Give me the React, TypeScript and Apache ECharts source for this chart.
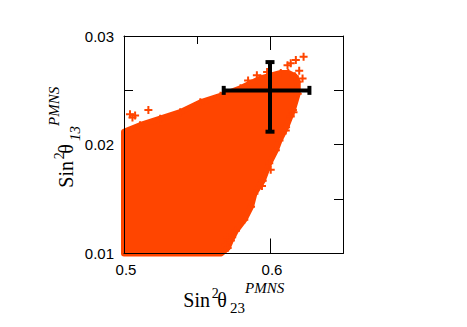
import React, { useEffect, useRef } from "react";
import * as echarts from "echarts";

const ORANGE = "#ff4500";

// Tick labels
const xTickLabels = [0.5, 0.6];
const yTickLabels = [0.01, 0.02, 0.03];
const xMinorTicks = [0.55];
const xMajorTicks = [0.6];

// Outline of the dense region of allowed points
const regionOutline: [number, number][] = [
  [0.5, 0.01],
  [0.5, 0.0212],
  [0.511, 0.0218],
  [0.5248, 0.0224],
  [0.5385, 0.023],
  [0.5523, 0.0239],
  [0.5661, 0.0245],
  [0.5798, 0.0252],
  [0.5936, 0.0261],
  [0.6074, 0.0266],
  [0.6125, 0.0266],
  [0.617, 0.0263],
  [0.619, 0.0258],
  [0.619, 0.0247],
  [0.6157, 0.0232],
  [0.611, 0.0216],
  [0.6065, 0.0204],
  [0.604, 0.0195],
  [0.5995, 0.0183],
  [0.595, 0.0167],
  [0.5893, 0.0155],
  [0.587, 0.0143],
  [0.5824, 0.0131],
  [0.5767, 0.0121],
  [0.5732, 0.0112],
  [0.571, 0.0105],
  [0.5665, 0.01],
];

// Scattered points outside / on the edge of the dense region
const outlierPoints: [number, number][] = [
  [0.5041, 0.0228],
  [0.5076, 0.0227],
  [0.5058, 0.0225],
  [0.5167, 0.0232],
  [0.623, 0.0281],
  [0.6177, 0.0278],
  [0.6142, 0.0275],
  [0.612, 0.0273],
  [0.62, 0.0268],
  [0.6223, 0.0261],
  [0.6161, 0.023],
  [0.6142, 0.0226],
  [0.6108, 0.0213],
  [0.5741, 0.0115],
  [0.585, 0.0259],
  [0.591, 0.0264],
  [0.598, 0.0267],
  [0.6005, 0.0177],
  [0.5945, 0.0162],
  [0.5707, 0.0115],
  [0.5695, 0.0108],
];

// Best-fit point with its error bars
const bestFit: [number, number] = [0.6, 0.025];
const xErrRange: [number, number] = [0.5683, 0.627];
const yErrRange: [number, number] = [0.0212, 0.0276];

const PLUS = "path://M3,0H5V3H8V5H5V8H3V5H0V3H3Z";

function titleChildren(sub: string, subItalic: boolean) {
  const base = {
    fill: "#000",
    fontFamily: "Liberation Serif",
    align: "left",
    verticalAlign: "middle",
  };
  return [
    { type: "text", x: 0, y: -6.75, style: { ...base, text: "Sin", fontSize: 20 } },
    { type: "text", x: 28.4, y: -13, style: { ...base, text: "2", fontSize: 14, lineHeight: 12 } },
    { type: "text", x: 34, y: -6.75, style: { ...base, text: "θ", fontSize: 20 } },
    {
      type: "text",
      x: 46.7,
      y: 2.1,
      style: { ...base, text: sub, fontSize: 15, lineHeight: 12, fontStyle: subItalic ? "italic" : "normal" },
    },
    {
      type: "text",
      x: 61.7,
      y: -18.5,
      style: { ...base, text: "PMNS", fontSize: 15, lineHeight: 11, fontStyle: "italic" },
    },
  ];
}

export default function App() {
  const ref = useRef<HTMLDivElement>(null);
  useEffect(() => {
    document.body.style.margin = "0";
    if (!ref.current) return;
    const chart = echarts.init(ref.current, undefined, { renderer: "svg" });

    const line = { color: "#000", width: 1 };
    const xBase: any = {
      type: "value",
      min: 0.5,
      max: 0.65,
      splitLine: { show: false },
      axisLabel: { show: false },
      axisTick: { show: false },
      axisLine: { show: false, onZero: false },
    };
    const yBase: any = {
      type: "value",
      min: 0.01,
      max: 0.03,
      interval: 0.005,
      splitLine: { show: false },
      axisLabel: { show: false },
      axisTick: { show: false },
      axisLine: { show: false, onZero: false },
    };

    const option: any = {
      animation: false,
      grid: { left: 124, top: 36, width: 219, height: 217.5 },
      xAxis: [
        {
          ...xBase,
          position: "bottom",
          axisLabel: {
            show: true,
            customValues: xTickLabels,
            formatter: (v: number) => v.toFixed(1),
            fontSize: 15,
            lineHeight: 13,
            fontFamily: "Liberation Sans",
            color: "#000",
            margin: 9,
            padding: [0, 0, 0, 4],
          },
          axisTick: { show: true, inside: true, customValues: xMinorTicks, length: 8, lineStyle: line },
        },
        {
          ...xBase,
          position: "bottom",
          axisTick: { show: true, inside: true, customValues: xMajorTicks, length: 15, lineStyle: line },
        },
        {
          ...xBase,
          position: "top",
          axisTick: { show: true, inside: true, customValues: xMinorTicks, length: 8, lineStyle: line },
        },
        {
          ...xBase,
          position: "top",
          axisTick: { show: true, inside: true, customValues: xMajorTicks, length: 14, lineStyle: line },
          axisLine: { show: true, onZero: false, lineStyle: line },
        },
        {
          ...xBase,
          position: "bottom",
          z: 10,
          axisLine: { show: true, onZero: false, lineStyle: line },
        },
      ],
      yAxis: [
        {
          ...yBase,
          position: "left",
          axisLabel: {
            show: true,
            customValues: yTickLabels,
            formatter: (v: number) => v.toFixed(2),
            fontSize: 15,
            fontFamily: "Liberation Sans",
            color: "#000",
            margin: 10,
          },
          axisTick: { show: true, inside: true, length: 9, lineStyle: line },
        },
        {
          ...yBase,
          position: "right",
          axisTick: { show: true, inside: true, length: 9, lineStyle: line },
          axisLine: { show: true, onZero: false, lineStyle: line },
        },
        {
          ...yBase,
          position: "left",
          z: 10,
          axisLine: { show: true, onZero: false, lineStyle: line },
        },
      ],
      series: [
        {
          type: "custom",
          xAxisIndex: 0,
          yAxisIndex: 0,
          z: 2,
          clip: false,
          silent: true,
          data: [[0.5, 0.01]],
          renderItem: (_p: any, api: any) => ({
            type: "polygon",
            shape: { points: regionOutline.map((p) => api.coord(p)) },
            style: { fill: ORANGE, stroke: ORANGE, lineWidth: 6, lineJoin: "round" },
          }),
        },
        {
          type: "scatter",
          xAxisIndex: 0,
          yAxisIndex: 0,
          z: 3,
          clip: false,
          symbol: PLUS,
          symbolSize: 8,
          itemStyle: { color: ORANGE, opacity: 1 },
          data: [...outlierPoints, ...regionOutline.slice(2, regionOutline.length - 1)],
        },
        {
          type: "custom",
          xAxisIndex: 0,
          yAxisIndex: 0,
          z: 4,
          clip: false,
          silent: true,
          data: [bestFit],
          renderItem: (_p: any, api: any) => {
            const c = api.coord(bestFit);
            const l = api.coord([xErrRange[0], bestFit[1]]);
            const r = api.coord([xErrRange[1], bestFit[1]]);
            const t = api.coord([bestFit[0], yErrRange[1]]);
            const b = api.coord([bestFit[0], yErrRange[0]]);
            const st = { stroke: "#000", lineWidth: 4 };
            const cap = 4.5;
            return {
              type: "group",
              children: [
                { type: "line", shape: { x1: l[0], y1: c[1], x2: r[0], y2: c[1] }, style: st },
                { type: "line", shape: { x1: c[0], y1: t[1], x2: c[0], y2: b[1] }, style: st },
                { type: "line", shape: { x1: l[0], y1: c[1] - cap, x2: l[0], y2: c[1] + cap }, style: st },
                { type: "line", shape: { x1: r[0], y1: c[1] - cap, x2: r[0], y2: c[1] + cap }, style: st },
                { type: "line", shape: { x1: c[0] - cap, y1: t[1], x2: c[0] + cap, y2: t[1] }, style: st },
                { type: "line", shape: { x1: c[0] - cap, y1: b[1], x2: c[0] + cap, y2: b[1] }, style: st },
              ],
            };
          },
        },
      ],
      graphic: [
        { type: "group", x: 183.3, y: 306.3, children: titleChildren("23", false) },
        { type: "group", x: 72.5, y: 187.7, rotation: Math.PI / 2, children: titleChildren("13", true) },
      ],
    };
    chart.setOption(option);
    return () => chart.dispose();
  }, []);
  return <div ref={ref} style={{ width: 467, height: 327 }} />;
}
